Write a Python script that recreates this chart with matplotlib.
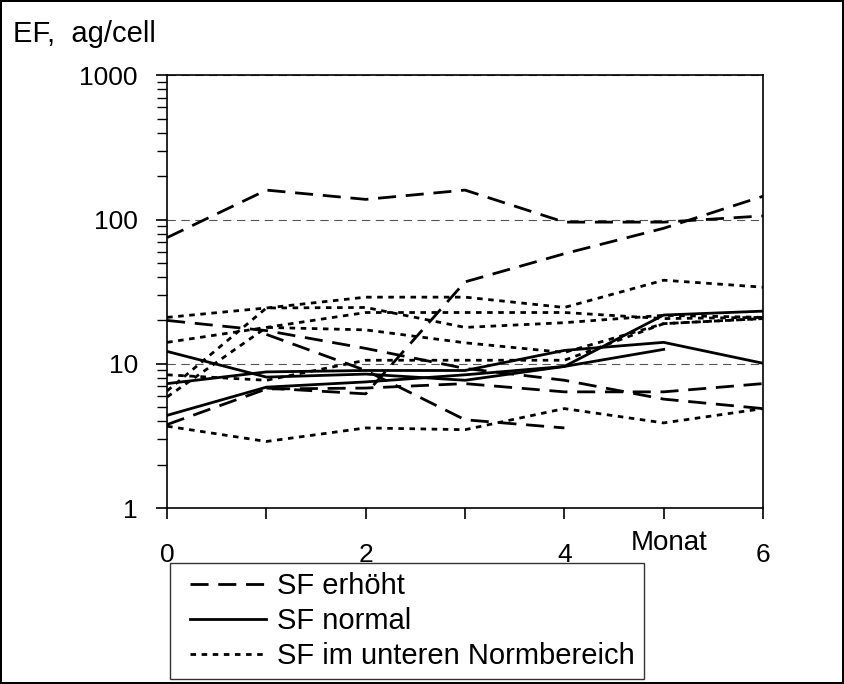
import numpy as np
import matplotlib
matplotlib.use("Agg")
from matplotlib import pyplot as plt
from matplotlib.lines import Line2D
from matplotlib.legend_handler import HandlerLine2D

plt.rcParams['font.family'] = ['Liberation Sans', 'DejaVu Sans']
plt.rcParams['lines.scale_dashes'] = False

nan = np.nan
months = [0, 1, 2, 3, 4, 5, 6]

# SF erhoeht (dashed)
erh_1 = [75, 160, 138, 160, 96, 96, 106]
erh_2 = [nan, 6.8, 6.2, 37, 58, 87, 145]
erh_3 = [20, 17, 12.8, 9.3, 7.7, 5.7, 4.9]
erh_4 = [nan, 16, 9.0, 4.1, 3.6, nan, nan]
erh_5 = [3.8, 6.7, 6.8, 7.3, 6.4, 6.4, 7.3]

# SF normal (solid)
nor_1 = [12.2, 8.1, 8.5, 7.7, 9.6, 21.8, 23.2]
nor_2 = [7.3, 8.8, 9.0, 9.0, 12.4, 14.1, 10.1]
nor_3 = [4.4, 6.9, 7.5, 8.4, 9.6, 12.6, nan]

# SF im unteren Normbereich (dotted)
unt_1 = [21, 24.4, 29, 29, 24.6, 38, 34]
unt_2 = [14.1, 17.9, 22.7, 22.7, 22.7, 20.6, 21]
unt_3 = [5.9, 17.9, 17.2, 14.0, 12.0, 19, 20.6]
unt_4 = [8.4, 7.7, 10.6, 10.6, 10.6, 19, 20.6]
unt_5 = [3.7, 2.9, 3.6, 3.5, 4.9, 3.9, 4.9]
unt_6 = [6.5, 24.4, 24.6, 17.9, 19.3, 21.7, 21]

groups = [
    ('SF erhöht', (0, (13, 7)), [erh_1, erh_2, erh_3, erh_4, erh_5]),
    ('SF normal', '-', [nor_1, nor_2, nor_3]),
    ('SF im unteren Normbereich', (0, (4, 4)),
     [unt_1, unt_2, unt_3, unt_4, unt_5, unt_6]),
]

fig = plt.figure(figsize=(8.44, 6.84), dpi=100)
fig.patch.set_edgecolor('black')
fig.patch.set_linewidth(1.5)
ax = fig.add_axes([0.198, 0.257, 0.706, 0.633])

handles = []
for label, ls, series in groups:
    for i, s in enumerate(series):
        ln, = ax.plot(months, s, color='black', lw=2, linestyle=ls)
        if i == 0:
            handles.append(ln)

ax.set_yscale('log')
ax.set_ylim(1, 1000)
ax.set_xlim(0, 6)
ax.set_xticks(months)
ax.set_xticklabels(['0', '', '2', '', '4', '', '6'])
ax.set_yticks([1, 10, 100, 1000])
ax.set_yticklabels(['1', '10', '100', '1000'])
ax.tick_params(axis='both', direction='out', length=8, width=1.2, labelsize=19)
ax.tick_params(axis='x', pad=17)
ax.tick_params(axis='y', which='minor', direction='out', length=7, width=1)
ax.tick_params(axis='y', pad=13)
ax.yaxis.grid(True, which='major', color='#555555', linestyle=(0, (6, 4)), lw=0.8)
for sp in ax.spines.values():
    sp.set_linewidth(1.2)

ax.text(5.06, 0.57, 'Monat', fontsize=20, ha='center', va='center')
fig.text(0.015, 0.951, 'EF,  ag/cell', fontsize=21, ha='left', va='center')

leg = fig.legend(handles, [g[0] for g in groups], loc='lower left',
                 bbox_to_anchor=(0.2015, 0.007), fontsize=21, frameon=True,
                 fancybox=False, edgecolor='black', handlelength=3.0,
                 handletextpad=0.38, labelspacing=0.25, borderpad=0.3,
                 borderaxespad=0, handler_map={Line2D: HandlerLine2D(xpad=0.38)})
leg.get_frame().set_linewidth(1)

fig.savefig('out.png', dpi=100)
